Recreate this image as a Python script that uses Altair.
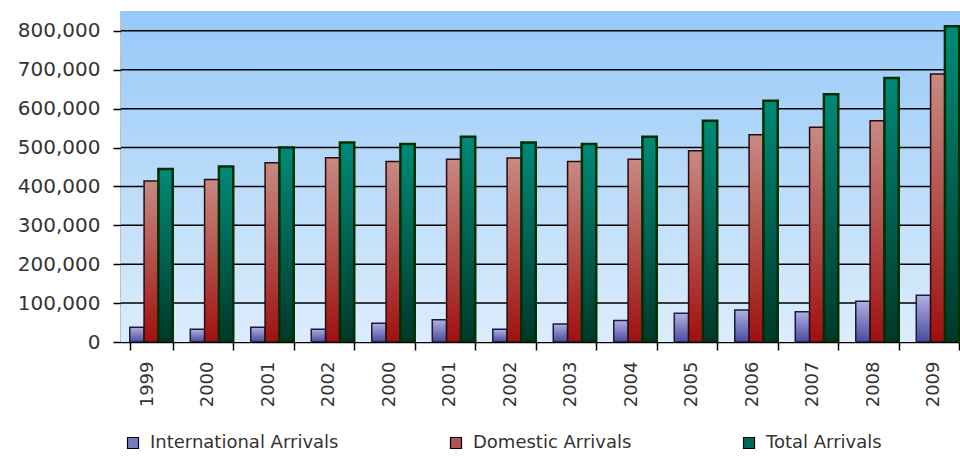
import altair as alt
import pandas as pd

# Arrivals by year (x slots keep repeated year labels apart)
years = ["1999", "2000", "2001", "2002", "2000", "2001", "2002",
         "2003", "2004", "2005", "2006", "2007", "2008", "2009"]
international = [38000, 33000, 38000, 33000, 48000, 57000, 33000,
                 46000, 55000, 74000, 82000, 78000, 105000, 120000]
domestic = [414000, 418000, 461000, 474000, 464000, 470000, 473000,
            464000, 470000, 492000, 533000, 552000, 569000, 689000]
total = [445000, 451000, 500000, 513000, 509000, 528000, 513000,
         509000, 528000, 569000, 620000, 637000, 679000, 812000]
y_ticks = [0, 100000, 200000, 300000, 400000, 500000, 600000, 700000, 800000]

series_names = ["International Arrivals", "Domestic Arrivals", "Total Arrivals"]

rows = []
for i, y in enumerate(years):
    for name, vals in zip(series_names, [international, domestic, total]):
        rows.append({"slot": i, "year": y, "series": name, "value": vals[i]})
df = pd.DataFrame(rows)

FONT = "DejaVu Sans"
W, H = 839, 331

label_expr = "[" + ",".join(f"'{y}'" for y in years) + "][datum.value]"


def grad(top, bottom):
    return alt.LinearGradient(
        gradient="linear", x1=0, y1=0, x2=0, y2=1,
        stops=[alt.GradientStop(color=top, offset=0),
               alt.GradientStop(color=bottom, offset=1)])


x_enc = alt.X(
    "slot:O",
    scale=alt.Scale(range=[0, 847], paddingInner=0.29, paddingOuter=0.145),
    axis=alt.Axis(
        title=None, labelExpr=label_expr, labelAngle=-90, labelAlign="right",
        labelBaseline="middle", labelFont=FONT, labelFontSize=18,
        labelColor="#333333", labelPadding=11, labelOffset=-4,
        tickBand="extent", tickSize=8,
        tickColor="#000000", tickWidth=1.5, domainColor="#000000",
        domainWidth=1.5, grid=False))

y_scale = alt.Scale(domain=[0, 851000], nice=False)
y_enc = alt.Y(
    "value:Q",
    scale=y_scale,
    axis=alt.Axis(
        title=None, values=y_ticks, format=",d",
        labelFont=FONT, labelFontSize=20, labelColor="#333333",
        labelPadding=13, tickSize=8, tickColor="#000000", tickWidth=1.5,
        domainColor="#000000", domainWidth=1.5, grid=False))

xoff = alt.XOffset("series:N", scale=alt.Scale(domain=series_names, paddingInner=0, paddingOuter=0))

# Plot background: blue vertical gradient
background = (
    alt.Chart(pd.DataFrame({"k": [0]}))
    .mark_rect(fill=grad("#96c8f8", "#dcedfc"))
    .encode(x=alt.value(0), x2=alt.value("width"), y=alt.value(0), y2=alt.value("height"))
)

# Horizontal gridlines at each y tick
grid = (
    alt.Chart(pd.DataFrame({"tick": y_ticks[1:]}))
    .mark_rule(color="#000000", strokeWidth=1.5)
    .encode(y=alt.Y("tick:Q", scale=y_scale), x=alt.value(0), x2=alt.value("width"))
)

styles = {
    "International Arrivals": (grad("#b0b0e0", "#4a4aa0"), "#1a1a40", 1.5),
    "Domestic Arrivals": (grad("#c88a84", "#a01010"), "#2a0a0a", 1.5),
    "Total Arrivals": (grad("#008a78", "#00382a"), "#003000", 2.5),
}

base = alt.Chart(df)
layers = []
for name in series_names:
    fill, stroke, sw = styles[name]
    layers.append(
        base.transform_filter(alt.datum.series == name)
        .mark_bar(fill=fill, stroke=stroke, strokeWidth=sw, clip=True)
        .encode(x=x_enc, y=y_enc, xOffset=xoff)
    )

# Legend-only layer: keeps the colour scale but draws no marks
legend_layer = (
    base.transform_filter("false")
    .mark_square()
    .encode(
        color=alt.Color(
            "series:N",
            scale=alt.Scale(domain=series_names,
                            range=["#7a7ac4", "#b05454", "#006a5a"]),
            legend=alt.Legend(
                title=None, orient="none", legendX=3, legendY=423, padding=0,
                direction="horizontal", columns=3, columnPadding=108,
                symbolType="square", symbolSize=121, symbolStrokeColor="#000000",
                symbolStrokeWidth=1.2, symbolOpacity=1, labelFont=FONT,
                labelFontSize=18, labelColor="#333333", labelOffset=8,
                labelLimit=400)))
)

chart = (
    alt.layer(background, grid, *layers, legend_layer)
    .properties(
        width=W, height=H,
        autosize=alt.AutoSizeParams(type="none"),
        padding={"left": 121, "top": 11, "right": 0, "bottom": 114},
        background="#ffffff",
    )
    .configure_view(stroke=None)
)

chart.save("out.html", embed_options={"renderer": "svg", "actions": False})
